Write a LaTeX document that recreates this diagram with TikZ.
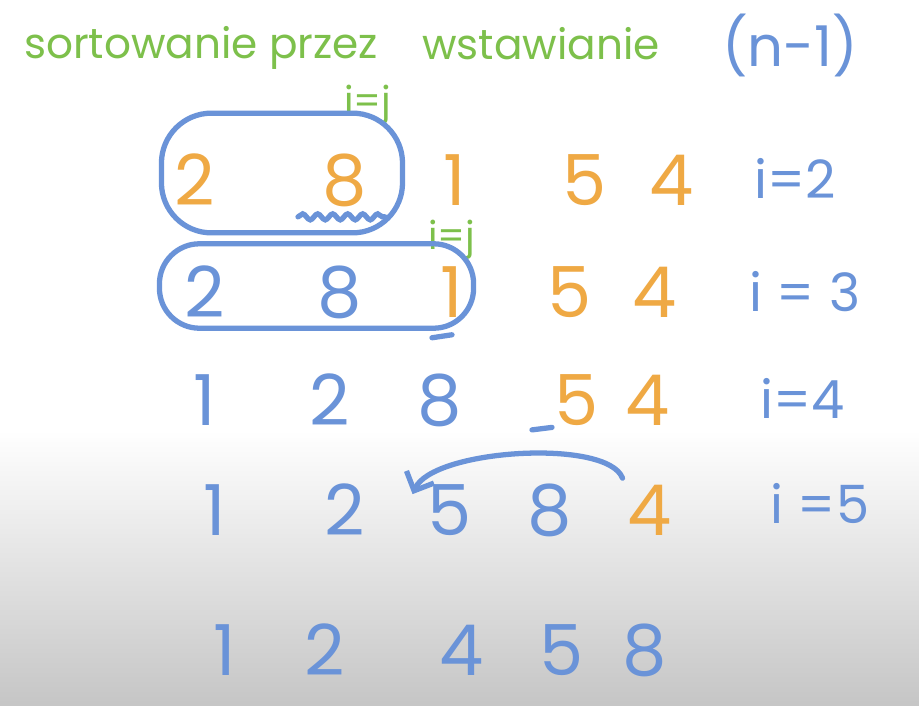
\documentclass[tikz,border=0pt]{standalone}
\usepackage{fontspec}
\setmainfont{Poppins}
\usetikzlibrary{fit,arrows.meta,decorations.pathmorphing}

\definecolor{penblue}{HTML}{6A93D8}
\definecolor{penorange}{HTML}{EFA944}
\definecolor{pengreen}{HTML}{7DC04B}

\begin{document}
\begin{tikzpicture}[
  x=0.2mm, y=-0.2mm,
  digit/.style={
      font=\fontsize{40}{40}\selectfont,
      inner sep=0pt
  },
  done/.style={
      digit,
      text=penblue
  },
  todo/.style={
      digit,
      text=penorange
  },
  counter/.style={
      font=\fontsize{30}{30}\selectfont,
      text=penblue,
      inner sep=0pt
  },
  pointer/.style={
      font=\fontsize{22}{22}\selectfont,
      text=pengreen,
      inner sep=0pt
  },
  heading/.style={
      anchor=west,
      text=pengreen,
      font=\fontsize{24}{24}\selectfont
  },
  sortbox/.style={
      draw=penblue,
      line width=3pt,
      rounded corners=9mm
  },
  scribble/.style={
      draw=penblue,
      line width=3pt,
      line cap=round
  },
  arrow/.style={
      -{Straight Barb[length=3mm,width=6mm]},
      draw=penblue,
      line width=3pt,
      line cap=round
  }
]

% ==================================================
% Background (white board, darker at the bottom)
% ==================================================

\useasboundingbox (0,0) rectangle (919,705);
\fill[white] (0,0) rectangle (919,705);
\shade[top color=white, bottom color=gray!45]
      (0,430) rectangle (919,705);

% ==================================================
% Title
% ==================================================

\node[heading] (title) at (18,48)
      {sortowanie przez};

\node[heading] (title2) at (416,44)
      {wstawianie};

\node[anchor=west, text=penblue,
      font=\fontsize{32}{32}\selectfont]
      (steps) at (716,45)
      {(n-1)};

% ==================================================
% Row 1
% ==================================================

\node[todo] (r1a) at (195,180) {2};
\node[todo] (r1b) at (345,180) {8};
\node[todo] (r1c) at (455,180) {1};
\node[todo] (r1d) at (585,180) {5};
\node[todo] (r1e) at (672,180) {4};
\node[counter] (i2) at (795,178) {i=2};

\node[pointer] (p1) at (368,105) {i=j};

\node[sortbox, fit=(r1a)(r1b),
      inner xsep=4.8mm, inner ysep=6.6mm,
      rounded corners=10mm,
      xshift=2.2mm, yshift=1.4mm] (box1) {};

\draw[scribble,
      decorate,
      decoration={snake, amplitude=0.6mm, segment length=3mm}]
      ([xshift=-9.4mm,yshift=-2mm]r1b.south)
      -- ([xshift=8mm,yshift=-2mm]r1b.south);

% ==================================================
% Row 2
% ==================================================

\node[done] (r2a) at (205,292) {2};
\node[done] (r2b) at (340,292) {8};
\node[todo] (r2c) at (452,292) {1};
\node[todo] (r2d) at (570,292) {5};
\node[todo] (r2e) at (655,292) {4};
\node[counter] (i3) at (805,292) {i = 3};

\node[pointer] (p2) at (452,240) {i=j};

\node[sortbox, fit=(r2a)(r2c),
      inner xsep=3.5mm, inner ysep=3.2mm,
      rounded corners=8mm,
      xshift=-1.5mm, yshift=1.2mm] (box2) {};

\draw[scribble]
      ([xshift=-4mm,yshift=-4mm]r2c.south)
      -- ([xshift=0mm,yshift=-3.4mm]r2c.south);

% ==================================================
% Row 3
% ==================================================

\node[done] (r3a) at (205,400) {1};
\node[done] (r3b) at (330,400) {2};
\node[done] (r3c) at (440,400) {8};
\node[todo] (r3d) at (577,400) {5};
\node[todo] (r3e) at (648,400) {4};
\node[counter] (i4) at (803,398) {i=4};

\draw[scribble]
      ([xshift=-9mm,yshift=-0.8mm]r3d.south)
      -- ([xshift=-5mm,yshift=-0.3mm]r3d.south);

% ==================================================
% Row 4
% ==================================================

\node[done] (r4a) at (215,510) {1};
\node[done] (r4b) at (345,510) {2};
\node[done] (r4c) at (450,510) {5};
\node[done] (r4d) at (550,510) {8};
\node[todo] (r4e) at (650,510) {4};
\node[counter] (i5) at (820,503) {i =5};

\draw[arrow]
      ([xshift=10mm,yshift=1mm]r4d.north east)
      .. controls +(-3mm,8mm) and +(4mm,9mm) ..
      ([xshift=-3mm,yshift=-2mm]r4c.north west);

% ==================================================
% Row 5 (sorted)
% ==================================================

\node[done] (r5a) at (225,650) {1};
\node[done] (r5b) at (325,650) {2};
\node[done] (r5c) at (462,650) {4};
\node[done] (r5d) at (562,650) {5};
\node[done] (r5e) at (645,650) {8};

\end{tikzpicture}
\end{document}
